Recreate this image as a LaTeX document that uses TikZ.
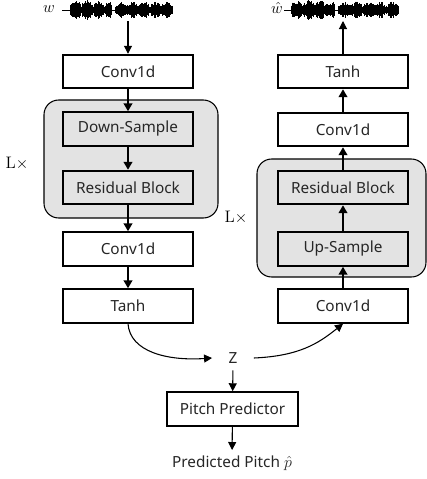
\documentclass[tikz,border=0pt]{standalone}
\usepackage{fontspec}
\usepackage{tikz}
\usetikzlibrary{positioning,arrows.meta}
\newfontfamily\boxfont{Noto Sans}

\tikzset{
  blk/.style={draw,line width=1.6pt,fill=white,minimum width=97.5pt,minimum height=25pt,
    inner sep=0pt,font=\boxfont\fontsize{11.5}{13}\selectfont,text=black!85},
  grp/.style={draw,line width=0.8pt,fill=black!11,rounded corners=11pt,inner sep=0pt},
  thk/.style={-{Triangle[length=6pt,width=6.5pt]},line width=1.5pt},
  thn/.style={-{Triangle[length=6pt,width=6pt]},line width=0.8pt},
  lbl/.style={inner sep=0pt,font=\boxfont\fontsize{11.5}{13}\selectfont,text=black!85},
  mth/.style={inner sep=0pt,font=\fontsize{12.5}{14}\selectfont}
}

\begin{document}
\begin{tikzpicture}[x=0.75pt,y=0.75pt,yscale=-1,xscale=1]
        \useasboundingbox (0,0) rectangle (427,479);
        \pgfmathsetseed{7}
        %Waveforms
        \draw[line width=0.5pt] (62,10) -- (172,10);
        \draw[line width=0.5pt] (284,10) -- (398,10);
        \foreach \i in {0,...,170}{
          \pgfmathsetmacro{\env}{(0.5+0.5*abs(sin(\i*9.5)))*(abs(\i-72)>2)}
          \pgfmathsetmacro{\ampl}{(\i<60 ? 10 : 8.5)*\env*(0.55+0.45*rnd)}
          \draw[line width=0.6pt] (70+\i*0.6,10-\ampl) -- (70+\i*0.6,10+\ampl);
          \pgfmathsetmacro{\amplb}{(\i<60 ? 10 : 8.5)*\env*(0.55+0.45*rnd)}
          \draw[line width=0.6pt] (291+\i*0.63,10-\amplb) -- (291+\i*0.63,10+\amplb);
        }
        % Text Node
        \node[mth] (w) at (49,9) {$w$};
        \node[mth] (wh) at (277,8) {$\hat{w}$};
        \coordinate (wavein) at (128,21);
        \coordinate (waveout) at (343,21);

        % Groups
        \node[grp,minimum width=130.5pt,minimum height=88.5pt] (grpa) at (131,159) {};
        \node[grp,minimum width=126.75pt,minimum height=88.5pt] (grpb) at (341.5,218) {};
        \node[mth] (la) at (17,163) {L$\times$};
        \node[mth] (lb) at (236,217) {L$\times$};

        % Encoder
        \node[blk] (conva) at (128,71.5) {Conv1d};
        \node[blk,fill=black!11] (downs) at (128,129) {Down-Sample};
        \node[blk,fill=black!11] (resa) at (128,187.5) {Residual Block};
        \node[blk] (convb) at (128,249) {Conv1d};
        \node[blk] (tanha) at (128,306) {Tanh};

        % Decoder
        \node[blk] (tanhb) at (343,71.5) {Tanh};
        \node[blk] (convc) at (343,129.5) {Conv1d};
        \node[blk,fill=black!11] (resb) at (343,187.5) {Residual Block};
        \node[blk,fill=black!11] (ups) at (343,249) {Up-Sample};
        \node[blk] (convd) at (343,306) {Conv1d};

        % Latent and pitch
        \node[lbl,minimum width=31pt,minimum height=18pt] (z) at (233,358) {Z};
        \node[blk,minimum width=98pt] (pitch) at (232.5,409) {Pitch Predictor};
        \node[lbl,inner sep=4pt] (pred) at (232,463) {Predicted Pitch $\hat{p}$};

        %Arrows
        \draw[thn] (wavein) -- (conva);
        \draw[thk] (conva) -- (downs);
        \draw[thk] (downs) -- (resa);
        \draw[thk] (resa) -- (convb);
        \draw[thk] (convb) -- (tanha);
        \draw[thk] (convd) -- (ups);
        \draw[thk] (ups) -- (resb);
        \draw[thk] (resb) -- (convc);
        \draw[thk] (convc) -- (tanhb);
        \draw[thn] (tanhb) -- (waveout);
        \draw[thn] (tanha.south) .. controls +(2,28) and +(-45,3) .. (z.west);
        \draw[thn] (z.east) .. controls +(45,-2) and +(-25,20) .. (convd.south);
        \draw[thn] (z) -- (pitch);
        \draw[thn] (pitch) -- (pred);
    \end{tikzpicture}
\end{document}
